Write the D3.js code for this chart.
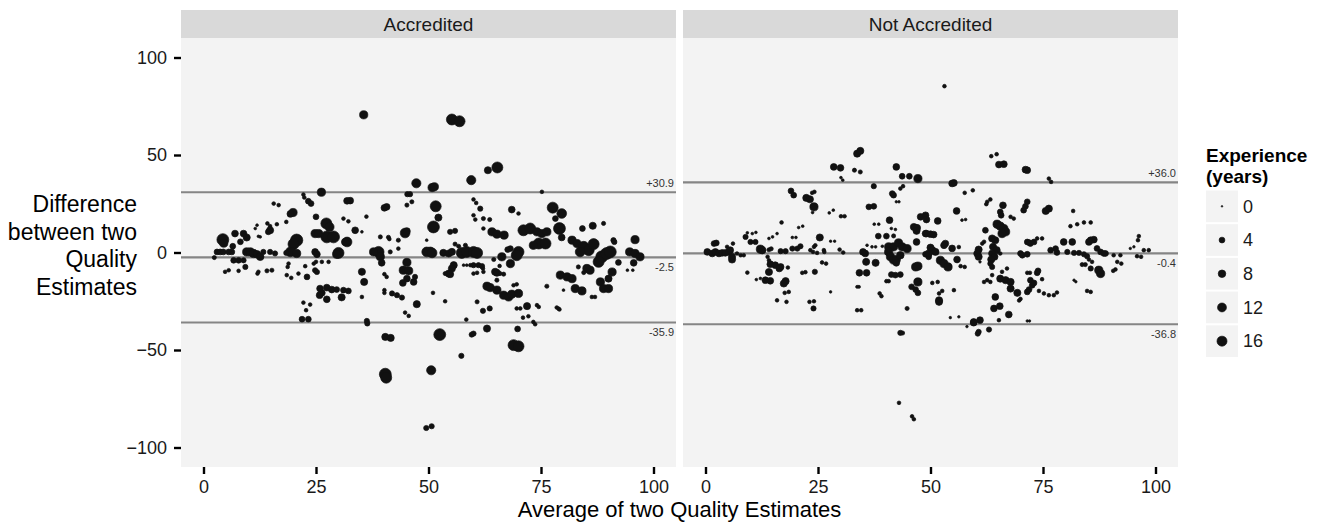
<!DOCTYPE html>
<html><head><meta charset="utf-8">
<script src="https://cdn.jsdelivr.net/npm/d3@7"></script>
<style>
body{margin:0;background:#fff;}
text{font-family:"Liberation Sans",Arial,Helvetica,sans-serif;}
</style>
</head><body>
<svg id="chart" width="1320" height="522"></svg>
<script>
// ---------- data ----------
const panelNames = ["Accredited", "Not Accredited"];
const xTicks = [0, 25, 50, 75, 100];
const yTicks = [-100, -50, 0, 50, 100];
const sizeBreaks = [0, 4, 8, 12, 16];
const limitsAccredited = [30.9, -2.5, -35.9];
const limitLabelsAccredited = ["+30.9", "-2.5", "-35.9"];
const limitsNotAccredited = [36.0, -0.4, -36.8];
const limitLabelsNotAccredited = ["+36.0", "-0.4", "-36.8"];

// [average, difference, experience]
const accredited = [
[35.6,70.6,10],[26.2,30.9,10],[47.3,35.5,13],[45.3,29.9,3],[45.9,29.9,3],
[32.6,26.6,6],[31.9,26.5,6],[22.2,29.7,1],[22.4,28.2,1],[23.3,26.3,4],[23.9,25.1,4],
[45.2,24.3,1.5],[46.3,26,1.5],[40.2,22.9,6],[40.7,23.4,6],[15.6,25.1,1],[16.7,24.3,1],
[19.9,20.5,10],[19.3,19.8,6],[36.2,18.4,1],[31.1,17.4,1],[32.2,16,1],[18.4,15.7,1],
[25,18.3,4],[27.3,14.9,20],[28,13.1,13],[14.2,14.9,1],[14.8,13.5,1],[16.3,14.5,1],
[11.9,14,0.3],[11.5,12.3,0.3],[14.8,11.4,7],[14.4,10.6,4],[12.2,8.3,0.3],
[33.7,11.4,6],[35.2,10.6,0.3],[44.8,10,15],[45.2,11,6],[4.3,6.6,24],[4.5,4.8,10],
[7,9.7,6],[8.9,9.7,6],[9.6,7.7,7],[8.2,5.5,4],[6.5,3.2,4],[12.6,8,0.3],
[24.8,9.7,10],[25.6,9.7,10],[27.4,8,24],[28.9,8,24],[31.9,5.4,15],[31.5,5.4,8],
[20.7,6.3,26],[20,4.3,20],[19.3,0.3,15],[20.7,-0.5,10],[18.4,-0.2,3],
[24.8,0.3,6],[25.2,-0.9,6],[30,-0.2,20],[29.6,-0.9,10],
[38.9,0.3,20],[39.3,-2.2,10],[39.6,-5.3,6],[37.8,0.3,10],[41.5,0.3,1.5],
[45.2,-5.1,10],[44.4,-9.1,10],[45.6,-9.4,10],[43.3,2.0,1],
[39.3,8,1.5],[41.1,7.8,1.5],[41.3,6.9,1],
[3,0.3,4],[3.7,0.3,4],[4.4,0.3,4],[5.6,0.3,4],[6.3,0.3,4],[2.4,-2.6,1.5],
[6.7,-4,4],[7.8,-4,4],[8.9,-4,3],[9.3,-7.4,3],
[9.6,0.3,10],[10.4,0.3,10],[11.1,-0.5,10],[11.9,-0.9,8],[12.6,-2.2,8],
[13.3,0.3,3],[14.8,0.3,3],[15.9,-0.5,3],[4.8,-9.9,1],[5.6,-9.1,1],[7.8,-9.4,1],
[12.2,-9.9,1],[12,-10.8,1],[14.1,-9.4,1.5],[15.2,-9.1,1.5],[18.9,-5.7,1],[18.7,-7.4,1],
[18.5,-11.6,1],[19.5,-13,1],[21.1,-10.8,1],[22.6,-7,1],[24.5,-5.7,1],[25,-4.8,1],
[26.3,-4.8,1],[27.8,-4.8,1],[24.8,-9.1,3],[25.2,-10,3],[23,-12.5,4],
[25.9,-18.5,6],[27.4,-18,6],[28.5,-19,6],[26.3,-20.7,6],[25.8,-21.9,6],[27.4,-24,6],
[29.6,-19,4],[31.1,-19.3,4],[32.2,-19.7,4],[30.7,-23,7],[35.2,-9.9,7],[35.7,-15.1,7],
[35.2,-22.8,1],[22.2,-25.7,1],[23.7,-26.7,1],[22.8,-29.6,1],[21.9,-34.2,4],[23.3,-34.2,4],
[36.3,-35.1,3],[36.4,-36.4,3],[40.4,-43.3,7],[41.6,-43.8,7],[40.2,-11.1,1],[40.7,-12.5,1],
[40.2,-19.3,1],[40.2,-20.7,1],[41.9,-21,3],[43,-21.9,3],[44.1,-23.1,3],
[44.8,-30.8,1],[45.6,-32.5,1],[47.4,-26.5,7],[44.3,-15.6,6],[45.2,-13.4,6],[46.7,-15.1,6],
[47,-12.5,3],[43.3,6.3,1.5],[49.6,6.3,0.3],[50.4,0.3,15],
[55.2,68.2,20],[56.9,67.3,20],[63.2,42.2,7],[65.3,43.6,20],[59.5,37.1,13],
[50.8,33.3,10],[51.3,33.7,10],[75.2,31.1,1],[51.6,23.7,20],[52.2,17.9,7],[51.1,13.1,24],
[60,27.2,1],[60.6,25.4,1],[61.5,22.5,3],[60,19.1,1],[60.4,16.9,1],[62.2,17.4,1.5],[63.6,16.9,1.5],
[68.5,22,6],[70,20,1],[62.2,12.3,1],[64.1,10.6,10],[65.2,9.4,10],[66.8,8.9,10],
[54.8,10.6,3],[55.9,11.1,3],[71.1,11.4,20],[72.6,12.3,20],[77.6,23,20],[79.6,20,15],
[78.2,17.4,4],[79.1,12.3,24],[74.1,10.6,10],[75.2,9.7,10],[76.3,10.6,10],
[74.5,4.6,20],[76,4.6,20],[73.3,3.7,10],[79.6,7.7,6],[81.9,6.3,10],[83,4.6,10],
[84.2,12.3,4],[86.5,13.7,7],[88.9,14.9,1.5],[84.5,2.9,20],[85.6,1.2,20],[86.7,4.3,20],
[83.7,0.3,15],[88.5,-2.2,24],[89.6,-0.5,24],[90.4,0.3,24],[87.8,-4.8,20],
[91.1,6.3,3],[91.3,5.4,3],[95.9,6.6,10],[94.7,0.3,10],[95.9,-0.5,10],[97,-2.2,10],
[95.6,-5.3,6],[92.2,-5.1,4],[94.2,-9.1,0.3],[95.4,-9.1,0.3],[85.9,-9.1,10],[85.2,-8.2,10],
[90.8,-10,10],[90,-13.4,7],[88.2,-15.1,10],[88.9,-18.5,10],[90,-18.5,10],
[86.3,-22.8,1],[87,-22.8,1],[79.3,-11.6,10],[80.8,-12.5,10],[81.9,-13.4,10],
[82.6,-18.5,10],[84.1,-19.7,10],[83.3,-7.4,1.5],[84.5,-10.3,1.5],[80,-19.3,0.3],
[76.3,-17.3,1.5],[78.5,-28.2,1],[79.1,-29.2,1],[70,0.3,20],[69.6,-1.4,20],
[68.2,2,4],[67.6,1.5,4],[66.3,-2.2,10],[68.2,-5.7,10],[64.5,-3.6,1.5],[65.8,-6.9,1],
[64.8,-9.9,7],[65.2,-10.4,7],[65.9,-10.8,1.5],[66.7,-11.1,1.5],[65.2,-14.2,1.5],
[63,-17.3,10],[63.7,-18,10],[65.2,-19.3,10],[66.7,-21.9,10],[67.8,-22.8,10],[68.5,-21.4,10],[70,-21,10],
[68.9,-16.8,1],[69.6,-16.3,1],[60,-6.5,3],[61.1,-6.5,3],[61.9,-7,3],[59.3,-6.5,1],
[62.1,-8.2,1],[62.2,-9.9,1],[60,-10.8,1],[60.8,-10.4,1],[57.8,-6.5,0.3],[58.5,-6.5,0.3],
[55.6,-6.5,7],[55.2,-8.2,7],[54.5,-10.8,7],[54.8,-11.1,7],[53.7,-10.8,1.5],
[53.3,-0.2,7],[54.5,-0.5,7],[55.2,0.3,7],[57.4,-0.2,20],[58.5,0.3,20],[60,0.3,20],[60.8,-0.2,20],
[55.9,4.3,1.5],[56.7,3.2,1.5],[58.2,3.7,1.5],[49.6,0.3,15],[50.8,-0.2,15],
[51,-20.7,1],[53.7,-25,1],[60.8,-25.3,1.5],[62.1,-29.9,3],[63.6,-28.7,3],
[69.6,-28.7,1],[70.4,-28.7,1],[71.9,-27.5,7],[74.1,-27,1],[74.5,-27.9,1],
[71,-33.4,1],[72.2,-32.7,1],[73.3,-35.6,1],[73.7,-36.8,1],[58.4,-34.4,1],
[60,-41.6,3],[59.6,-42.1,3],[63,-39,7],[69.8,-39.2,4],[52.5,-42.1,24],
[68.9,-47.5,20],[70,-48.1,20],[57.3,-53,3],[40.4,-62.4,24],[40.6,-64.2,20],
[50.6,-60.4,13],[49.5,-90,3],[50.7,-89.1,3],[78.9,-28.8,1]
];

const notAccredited = [
[53.1,85.3,1],
[33.7,50.7,7],[34.4,52.1,7],[28.5,43.9,6],[30,43.4,6],[33.1,42.2,1.5],[34.4,41.3,1.5],
[30.1,38.4,0.3],[30.5,37.1,0.3],[42.4,43.9,6],[43.7,39.1,4],[45.3,39.1,4],[47.2,37.9,10],
[37.4,34,3],[41.5,30.2,4],[41.8,29.4,4],[43.3,32.8,1],[43.9,34,1],[42.4,26,0.2],[43,26,0.2],
[19,31.6,4],[19.6,29.4,4],[22.4,28,7],[23.2,27.3,7],[23.7,30.6,1],[24.2,31.1,1],
[24.1,23.4,10],[23.8,20.5,0.3],[27.5,20.3,0.3],[28.4,21.7,0.3],[30.1,18.6,1],[30.9,18.6,1],
[36.3,23.4,4],[37.4,23.7,4],[16.9,15.4,1],[20.7,12.8,0.3],[21.6,13.5,0.3],
[19.3,7.7,0.3],[20.1,7.7,0.3],[14.9,8,0.3],[15.9,9.7,0.3],[14.1,7.2,0.3],
[9.3,10.1,0.3],[10.4,9.7,0.3],[11.2,10.3,0.3],[8.9,8,3],[10,5.4,3],[11.1,5.4,3],
[12.2,1.7,10],[12.6,1.2,8],[13.8,-2.2,1],[14.1,-4,1],
[14.4,-6,6],[15.5,-6.5,6],[16.7,-7.4,6],[16.4,-8.2,6],[18.3,-7.7,1],[14.1,-10,7],
[14.4,-14.5,6],[13.3,-14.2,6],[11.3,-13.9,0.3],[12.2,-13.3,0.3],[9.3,-10.3,1],
[17.8,-14.7,7],[17.4,-15.9,7],[17.6,-20.7,1],[18.5,-20.2,1],[15.9,-24.5,1],[18,-25.3,1],
[23.1,-25.3,1],[24.1,-25,1],[24,-28.7,3],[21.5,-10.4,1],[22.2,-10.1,1],[24.3,-9.9,3],
[25.9,-5.1,1],[26.8,-5.7,1],[27.8,-20.2,0.2],[33.7,-17.6,0.5],[34.1,-17.6,0.5],
[33.7,-29.6,1],[34.6,-29.6,1],[34.2,-10.4,6],[35.8,-10.4,6],[35.7,-4.8,7],[37.8,-5.3,7],
[35,0.3,6],[35.5,-0.5,6],[35.9,3.7,0.3],[37,2.9,0.3],[37.8,2.9,0.3],[39.3,3.2,0.3],
[38.4,8.4,4],[40.2,8.4,4],[37.5,14.5,0.3],[38.5,14.5,0.3],[40.9,16.6,6],
[41.3,12.3,0.3],[42.2,11.8,0.3],[41.8,8.5,1.5],
[40.7,2.9,10],[41.8,2.9,10],[42.9,4.9,10],[43.7,2.9,10],[44.8,2,10],
[40.7,0.3,10],[41.1,-2.2,10],[41.8,-3.9,10],[42.4,-3.6,10],[43.3,-1.4,8],[42.4,-5.3,6],
[41.3,-11.3,4],[42.2,-11.6,4],[43.3,-11.3,4],[40.2,-14.7,1],[40.7,-14.7,1],
[38.7,-21,1],[39.1,-22.4,1],[44.8,-28.7,1.5],[43.3,-41.2,3],[43.8,-41.3,1.5],
[46.3,13.1,7],[47,12.6,7],[46.9,11.1,7],[47.8,18.3,6],[48.9,19.1,6],[49.1,16.9,6],
[46.9,5.4,6],[46.7,-7.4,10],[47.2,-7,10],[47.2,-15.1,10],
[45.8,-17.6,4],[46.7,-19,4],[47.2,-20.7,4],[48.9,-0.9,4],[49.6,-2.2,4],[48.9,9.7,6],
[0.4,0.3,6],[1.5,-0.5,6],[2.2,0.3,6],[3,-0.5,6],[3.7,-0.2,6],[4.4,-0.2,6],[5.2,0.3,6],[5.5,1.2,6],
[1.9,4.6,4],[2.4,4.9,4],[4.8,2.9,1],[6.1,4.6,1],[5.9,-3.6,7],[5.9,-2.2,7],
[7,-0.5,1],[7.8,-1.4,1],[8.5,-1.4,1],[25.4,7.7,7],[24.1,2.9,1],[24.4,3.7,1],
[23.3,1.2,1],[23.9,0.3,1],[24.8,-0.2,1],[26.3,1.2,1],[26.4,0.3,1],[27.8,5.8,0.2],[28.7,5.8,0.2],
[29.8,1.5,1],[30.6,0,1],[16.7,0.7,3],[17.8,0.7,3],[19.3,2,3],[20.4,2,3],[21.1,3.2,3],
[14.1,1.4,1.5],[14.6,1.9,1.5],
[63.5,49.4,1],[64.7,50.4,1],[65.2,45.1,6],[66.3,45.3,6],[71.1,42.5,6],[71.5,42.2,6],
[76.3,37.9,1],[76.8,36.2,1],[55.2,35.7,6],[54.8,35.4,6],[57.6,30.6,1],[59.4,31.9,1],
[62.6,26,1],[63.3,27.2,1],[62.4,24.8,1],[71.5,26,4],[71.1,23.7,4],[70.7,21.7,4],
[76.3,22.5,7],[75.6,21.3,7],[81.7,21.3,1],[66.1,24.2,6],[65.5,20.8,4],[65.7,19.1,4],
[55.8,21.3,6],[57,16.6,0.3],[57.8,16.9,0.3],[67.8,18.3,1],[68.5,17.4,1],[51.6,16.2,6],
[64.8,14.5,10],[65.5,13.5,10],[66.3,12.3,10],[66.7,10.6,10],[65.9,9.7,10],[62.2,11.4,4],
[81.1,13.5,1],[82.6,14.5,1],[84.1,15.4,1],[85.6,15.4,1],
[49.1,9.7,6],[50,9.4,6],[50.7,9.2,6],[53.3,4.6,6],[53,3.7,6],[54.8,2.1,6],[56.3,2.8,1],
[50,2.5,7],[50.4,1.2,7],[51.1,0.3,7],[49.6,-0.5,7],[52.2,-4,10],[53,-5.7,10],[53.9,-7.4,10],
[56.7,-7,1],[57.6,-7.4,1],[55.9,-3.6,6],[50.4,-15.6,1],[51.6,-15.1,1],
[51.9,-21,1],[52.6,-19.7,1],[51.9,-24.5,7],[51.9,-25.3,7],[55.2,-19.3,1],
[54.4,-33.4,0.2],[56.3,-33,0.2],[60.7,1.5,7],[60.4,-0.5,7],[60.7,-2.2,7],[61.5,4.6,1],[61.9,5.5,1],
[63.7,7.2,7],[64.4,6.3,7],[63.9,2.9,7],[64.7,1.2,7],[63.7,-0.5,7],[64.2,-2.2,7],[63.5,-3.6,7],
[65.5,-0.5,1],[61,-4.8,0.2],[63.3,-5.7,3],[63.7,-7.4,3],[67,-8.2,1],[65.9,-9.9,1],
[65.5,-13.4,7],[66.7,-14.2,7],[67.8,-15.1,7],[63.7,-11.6,1],[63.3,-15.1,1],[62.6,-14.2,1],[61.9,-15.1,1],
[67.8,-18.5,7],[69.3,-20.7,7],[64.4,-22.8,6],[64.1,-28.7,6],[65.4,-27.5,6],[67.4,-31.8,6],
[65.2,-34.7,1],[63,-39.5,3],[60.7,-40.7,3],[60.5,-41.6,3],[59.6,-35.6,6],[61,-34.7,6],
[58.1,-38,0.2],[69.7,-24.6,1],[70,-23.8,1],[71.5,-20.2,4],[71.9,-19,4],
[72.6,-16.8,4],[72.2,-14.2,4],[73,-15.6,4],[73.7,-10.4,4],[73.9,-9.4,4],
[71.5,-10.4,1],[72.1,-10.4,1],[74.8,-13.7,1],
[74.1,-19.7,1],[75.2,-21,1],[76.3,-21.9,1],[77.4,-21.9,1],[78.1,-20.5,1],
[70,-0.5,4],[70.4,-1.4,4],[71.5,-0.9,4],[72.2,4.6,4],[73,5.4,4],[73.7,7.2,1],[74.8,7.2,1],
[71.5,5.4,4],[71.9,5.1,4],[76.7,1.2,4],[78.1,0,4],[77.8,2,4],[79.6,5.4,6],[81.5,5.4,6],
[80.4,0.3,3],[81.9,-0.2,3],[83,-0.2,3],[84.1,-0.9,3],[84.8,-1.9,3],
[85.6,6.3,6],[86.3,6.6,6],[85.2,5.4,6],[87,2.1,4],[87.8,0.3,4],[88.5,-0.5,4],[88.9,-0.5,4],
[83.7,-6.2,1.5],[84.4,-6.2,1.5],[85.2,-3.6,1],[85.9,-4.8,1],[85.6,-8.2,3],
[87.4,-9.1,10],[87.8,-10.8,10],[84.8,-19.7,1],[85.6,-20.2,1],[81.9,-14.2,0.2],[82.3,-15,0.2],
[90.7,-1.4,1],[92.2,-1.4,1],[91.5,-4.8,1],[92.4,-5.7,1],[90.6,-9.4,1],[91.1,-8.7,1],
[94.4,2.1,0.2],[95.2,2.9,0.2],[96.3,8.4,1],[96.1,6.3,1],[95.9,-1.9,1],[96.8,-2.2,1],
[97.4,1.2,1],[98.5,1.2,1],
[43,-77.1,1],[45.9,-84,1],[46.3,-85.5,1],[59.6,-36,6],[71.5,-35.1,0.2],[72,-35.1,0.2]
];

// ---------- layout ----------
const svg = d3.select("#chart");
const panelTop = 38, panelBottom = 467;
const panelsX = [[181, 676], [683, 1178]];
const fontTick = 18;
const y = d3.scaleLinear().domain([-110, 110]).range([panelBottom, panelTop]);
const r = d3.scaleSqrt().domain([0, 16]).range([0.8, 5]);

const panelData = [
  {name: panelNames[0], pts: accredited, lim: limitsAccredited, lab: limitLabelsAccredited},
  {name: panelNames[1], pts: notAccredited, lim: limitsNotAccredited, lab: limitLabelsNotAccredited}
];

panelData.forEach((p, i) => {
  const [x0, x1] = panelsX[i];
  const x = d3.scaleLinear().domain([-5, 105]).range([x0, x1]);
  const g = svg.append("g");
  // strip
  g.append("rect").attr("x", x0).attr("y", 10).attr("width", x1 - x0).attr("height", 28).attr("fill", "#D9D9D9");
  g.append("text").attr("x", (x0 + x1) / 2).attr("y", 24).attr("dy", "0.35em")
    .attr("text-anchor", "middle").attr("font-size", 19).attr("fill", "#1a1a1a").text(p.name);
  // panel
  g.append("rect").attr("x", x0).attr("y", panelTop).attr("width", x1 - x0).attr("height", panelBottom - panelTop).attr("fill", "#F3F3F3");
  // limit lines
  g.selectAll("line.lim").data(p.lim).join("line").attr("class", "lim")
    .attr("x1", x0).attr("x2", x1).attr("y1", d => y(d)).attr("y2", d => y(d))
    .attr("stroke", "#858585").attr("stroke-width", 2.2);
  g.selectAll("text.lim").data(p.lim).join("text").attr("class", "lim")
    .attr("x", x1 - 2).attr("y", (d, k) => k === 0 ? y(d) - 9 : y(d) + 10)
    .attr("dy", "0.35em").attr("text-anchor", "end").attr("font-size", 11).attr("fill", "#333")
    .text((d, k) => p.lab[k]);
  // points
  g.append("g").selectAll("circle").data(p.pts).join("circle")
    .attr("cx", d => x(d[0])).attr("cy", d => y(d[1])).attr("r", d => r(d[2]))
    .attr("fill", "#111").attr("stroke", "#111").attr("stroke-width", 0.7);
  // x axis
  const ax = g.append("g").attr("transform", `translate(0,${panelBottom})`)
    .call(d3.axisBottom(x).tickValues(xTicks).tickSize(7).tickPadding(6));
  ax.select(".domain").remove();
  ax.selectAll(".tick line").attr("stroke", "#000").attr("stroke-width", 2.4);
  ax.selectAll(".tick text").attr("font-size", fontTick).attr("fill", "#1a1a1a").attr("font-family", null);
  if (i === 0) {
    const ay = g.append("g").attr("transform", `translate(${x0},0)`)
      .call(d3.axisLeft(y).tickValues(yTicks).tickSize(7).tickPadding(7));
    ay.select(".domain").remove();
    ay.selectAll(".tick line").attr("stroke", "#000").attr("stroke-width", 2.4);
    ay.selectAll(".tick text").attr("font-size", fontTick).attr("fill", "#1a1a1a").attr("font-family", null);
  }
});

// axis titles
svg.append("text").attr("x", 679.5).attr("y", 517).attr("text-anchor", "middle")
  .attr("font-size", 22).attr("fill", "#000").text("Average of two Quality Estimates");
const yTitle = svg.append("text").attr("text-anchor", "end").attr("font-size", 23).attr("fill", "#000");
["Difference", "between two", "Quality", "Estimates"].forEach((t, k) => {
  yTitle.append("tspan").attr("x", 137).attr("y", 212 + k * 27.5).text(t);
});

// legend
const lg = svg.append("g");
lg.append("text").attr("x", 1206).attr("y", 162).attr("font-size", 19).attr("font-weight", "bold").attr("fill", "#000").text("Experience");
lg.append("text").attr("x", 1206).attr("y", 183).attr("font-size", 19).attr("font-weight", "bold").attr("fill", "#000").text("(years)");
const keyY = d3.scaleBand().domain(sizeBreaks).range([190.5, 357]).paddingInner(0.06);
const keys = lg.selectAll("g.key").data(sizeBreaks).join("g").attr("class", "key")
  .attr("transform", d => `translate(1206,${keyY(d)})`);
keys.append("rect").attr("width", 32).attr("height", keyY.bandwidth()).attr("fill", "#F3F3F3");
keys.append("circle").attr("cx", 16).attr("cy", keyY.bandwidth() / 2).attr("r", d => r(d))
  .attr("fill", "#111").attr("stroke", "#111").attr("stroke-width", 0.7);
keys.append("text").attr("x", 37).attr("y", keyY.bandwidth() / 2).attr("dy", "0.35em")
  .attr("font-size", fontTick).attr("fill", "#1a1a1a").text(d => d);
</script>
</body></html>
